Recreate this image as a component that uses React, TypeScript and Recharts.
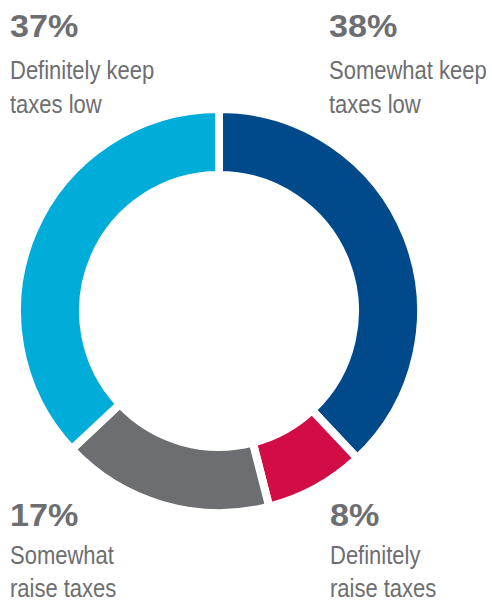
import React from 'react';
import { PieChart, Pie, Cell } from 'recharts';

// slices, clockwise from 12 o'clock
const categories = [
  'Somewhat keep taxes low',
  'Definitely raise taxes',
  'Somewhat raise taxes',
  'Definitely keep taxes low',
];
const shares = [38, 8, 17, 37];
const labelLines = [
  ['Somewhat keep', 'taxes low'],
  ['Definitely', 'raise taxes'],
  ['Somewhat', 'raise taxes'],
  ['Definitely keep', 'taxes low'],
];
const colors = ['#004a8c', '#d20d45', '#6d6e72', '#00acd8'];

const data = categories.map((name, i) => ({ name, value: shares[i] }));

// corner where each slice's label sits
const labelPos = [
  { x: 329, y: 37, line1: 79, line2: 113 },
  { x: 330, y: 526, line1: 564, line2: 597 },
  { x: 10, y: 526, line1: 564, line2: 597 },
  { x: 10, y: 37, line1: 79, line2: 113 },
];

const textColor = '#6d6e71';
const labelFont = 'Liberation Sans, Arial, sans-serif';

export default function App() {
  return (
    <div style={{ position: 'absolute', left: 0, top: 0, width: 492, height: 604 }}>
      <PieChart width={492} height={604} margin={{ top: 0, right: 0, bottom: 0, left: 0 }}>
        <Pie
          data={data}
          dataKey="value"
          nameKey="name"
          cx={219}
          cy={311}
          innerRadius={136}
          outerRadius={202}
          startAngle={90}
          endAngle={-270}
          stroke="#ffffff"
          strokeWidth={8}
          isAnimationActive={false}
        >
          {data.map((d, i) => (
            <Cell key={d.name} fill={colors[i]} />
          ))}
        </Pie>
      </PieChart>
      <svg
        width={492}
        height={604}
        style={{ position: 'absolute', left: 0, top: 0, pointerEvents: 'none' }}
      >
        {data.map((d, i) => {
          const p = labelPos[i];
          return (
            <g key={d.name} fill={textColor}>
              <text
                transform={`translate(${p.x},${p.y}) scale(1.1,1)`}
                fontFamily={labelFont}
                fontWeight={700}
                fontSize={31}
              >
                {d.value}%
              </text>
              <text
                transform={`translate(${p.x},${p.line1}) scale(0.88,1)`}
                fontFamily={labelFont}
                fontSize={25}
              >
                {labelLines[i][0]}
              </text>
              <text
                transform={`translate(${p.x},${p.line2}) scale(0.88,1)`}
                fontFamily={labelFont}
                fontSize={25}
              >
                {labelLines[i][1]}
              </text>
            </g>
          );
        })}
      </svg>
    </div>
  );
}
